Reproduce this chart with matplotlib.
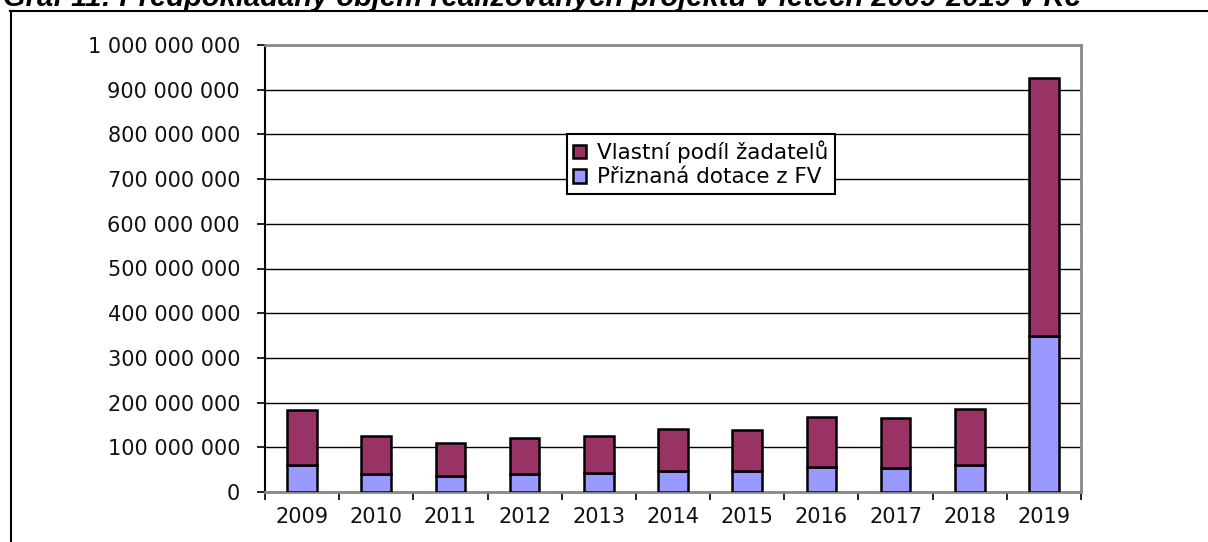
import matplotlib
matplotlib.use("Agg")
import matplotlib.pyplot as plt
from matplotlib.lines import Line2D
from matplotlib.ticker import FuncFormatter, MultipleLocator
import numpy as np

# data (Kč)
years = ["2009", "2010", "2011", "2012", "2013", "2014", "2015", "2016", "2017", "2018", "2019"]
dotace = [61e6, 40e6, 36e6, 40e6, 42e6, 48e6, 48e6, 55e6, 53e6, 60e6, 350e6]
celkem = [183e6, 126e6, 110e6, 120e6, 126e6, 141e6, 138e6, 168e6, 165e6, 185e6, 927e6]
vlastni = [c - d for c, d in zip(celkem, dotace)]

title = "Graf 11: Předpokládaný objem realizovaných projektů v letech 2009-2019 v Kč"
label_vlastni = "Vlastní podíl žadatelů"
label_dotace = "Přiznaná dotace z FV"

W, H = 1208, 542
fig = plt.figure(figsize=(W / 100, H / 100), dpi=100)
ax = fig.add_axes([265 / W, 1 - 492 / H, (1081 - 265) / W, (492 - 45) / H])

x = np.arange(len(years))
bw = 0.4
b1 = ax.bar(x, dotace, bw, color="#9999FF", edgecolor="black", linewidth=1.8, zorder=3)
b2 = ax.bar(x, vlastni, bw, bottom=dotace, color="#993366", edgecolor="black", linewidth=1.8, zorder=3)

ax.set_xlim(-0.5, len(years) - 0.5)
ax.set_ylim(0, 1e9)
ax.yaxis.set_major_locator(MultipleLocator(1e8))
ax.yaxis.set_major_formatter(FuncFormatter(lambda v, p: f"{int(v):,}".replace(",", " ")))
ax.grid(axis="y", color="black", linewidth=1.0, zorder=1)

ax.set_xticks(x)
ax.set_xticklabels(years)
ax.set_xticks(np.arange(-0.5, len(years)), minor=True)
ax.tick_params(axis="x", which="major", length=0, pad=11, labelsize=15, labelcolor="#111111")
ax.tick_params(axis="x", which="minor", length=6, width=1.2, color="black")
ax.tick_params(axis="y", length=6, width=1.2, pad=12, labelsize=15, labelcolor="#111111")

for s in ["top", "right", "bottom"]:
    ax.spines[s].set_color("#888888")
    ax.spines[s].set_linewidth(2)
ax.spines["left"].set_color("black")
ax.spines["left"].set_linewidth(1.5)

leg = ax.legend([b2, b1], [label_vlastni, label_dotace], loc="upper left",
                bbox_to_anchor=((567 - 265) / (1081 - 265), 1 - (134 - 45) / (492 - 45)),
                fontsize=15.5, frameon=True, fancybox=False, framealpha=1,
                edgecolor="black", handlelength=0.6, handleheight=0.6,
                handletextpad=0.5, borderpad=0.3, labelspacing=0.2, borderaxespad=0)
leg.get_frame().set_linewidth(1.5)
leg.set_zorder(5)

# page frame lines and the clipped title
fig.add_artist(Line2D([10 / W, 1], [1 - 11 / H, 1 - 11 / H], color="black", linewidth=1.5))
fig.add_artist(Line2D([11 / W, 11 / W], [0, 1 - 11 / H], color="black", linewidth=1.5))
fig.text(3 / W, 1 - 6 / H, title, fontsize=21, fontweight="bold", fontstyle="italic",
         family="Liberation Sans", va="baseline", ha="left")

fig.savefig("out.png", dpi=100)
